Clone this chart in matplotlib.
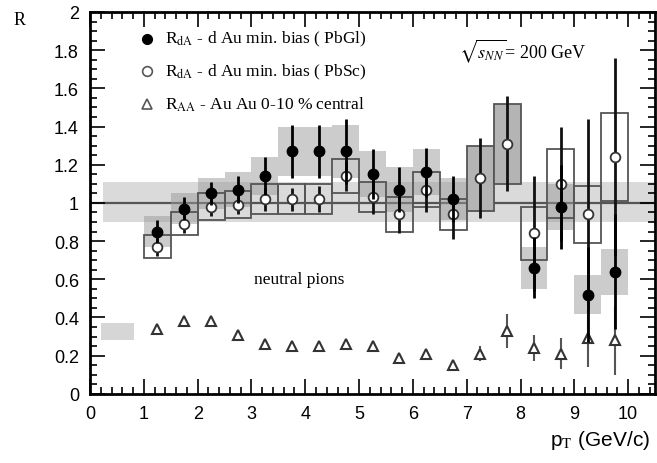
import numpy as np
import matplotlib
matplotlib.use("Agg")
import matplotlib.pyplot as plt
from matplotlib.patches import Rectangle
from matplotlib.ticker import MultipleLocator

# ---- data -------------------------------------------------------------------
pt_gl = [1.25, 1.75, 2.25, 2.75, 3.25, 3.75, 4.25, 4.75, 5.25, 5.75, 6.25, 6.75,
         8.25, 8.75, 9.25, 9.75]
r_gl = [0.85, 0.97, 1.05, 1.07, 1.14, 1.27, 1.27, 1.27, 1.15, 1.07, 1.16, 1.02,
        0.66, 0.98, 0.52, 0.64]
stat_gl = [0.06, 0.06, 0.06, 0.07, 0.10, 0.14, 0.14, 0.17, 0.13, 0.12, 0.13, 0.12,
           0.16, 0.22, 0.25, 0.30]
sys_gl = [0.08, 0.08, 0.08, 0.09, 0.10, 0.13, 0.13, 0.14, 0.12, 0.12, 0.12, 0.11,
          0.11, 0.12, 0.10, 0.12]

pt_sc = [1.25, 1.75, 2.25, 2.75, 3.25, 3.75, 4.25, 4.75, 5.25, 5.75, 6.25, 6.75,
         7.25, 7.75, 8.25, 8.75, 9.25, 9.75]
r_sc = [0.77, 0.89, 0.98, 0.99, 1.02, 1.02, 1.02, 1.14, 1.03, 0.94, 1.07, 0.94,
        1.13, 1.31, 0.84, 1.10, 0.94, 1.24]
stat_sc = [0.05, 0.05, 0.05, 0.05, 0.06, 0.06, 0.07, 0.08, 0.09, 0.10, 0.12, 0.13,
           0.21, 0.25, 0.30, 0.30, 0.50, 0.52]
sys_sc = [0.06, 0.06, 0.07, 0.07, 0.08, 0.08, 0.08, 0.09, 0.08, 0.09, 0.09, 0.08,
          0.17, 0.21, 0.14, 0.18, 0.15, 0.23]
fill_sc = [0, 0, 0, 0, 0, 0, 0, 0, 0, 0, 0, 0, 1, 1, 0, 0, 0, 0]

pt_aa = [1.25, 1.75, 2.25, 2.75, 3.25, 3.75, 4.25, 4.75, 5.25, 5.75, 6.25, 6.75,
         7.25, 7.75, 8.25, 8.75, 9.25, 9.75]
r_aa = [0.34, 0.38, 0.38, 0.31, 0.26, 0.25, 0.25, 0.26, 0.25, 0.19, 0.21, 0.15,
        0.21, 0.33, 0.24, 0.21, 0.29, 0.28]
stat_aa = [0.01, 0.01, 0.01, 0.01, 0.01, 0.01, 0.01, 0.01, 0.01, 0.01, 0.02, 0.02,
           0.04, 0.09, 0.07, 0.08, 0.15, 0.18]

half_w = 0.25

plt.rcParams["font.family"] = ["Liberation Sans", "DejaVu Sans"]
plt.rcParams["mathtext.fontset"] = "stix"
fig = plt.figure(figsize=(6.57, 4.64), dpi=100)
ax = fig.add_axes([0.137, 0.149, 0.860, 0.823])

# normalisation bands
ax.fill_between([0.25, 10.5], 0.90, 1.11, color="#dadada", lw=0, zorder=0)
ax.add_patch(Rectangle((0.2, 0.28), 0.62, 0.09, color="#d6d6d6", lw=0, zorder=0))
ax.axhline(1.0, color="#555555", lw=1.6, zorder=1)

# systematic boxes
for x, y, s in zip(pt_gl, r_gl, sys_gl):
    ax.add_patch(Rectangle((x - half_w, y - s), 2 * half_w, 2 * s,
                           facecolor="#9a9a9a", alpha=0.5, lw=0, zorder=2))
for x, y, s, f in zip(pt_sc, r_sc, sys_sc, fill_sc):
    ax.add_patch(Rectangle((x - half_w, y - s), 2 * half_w, 2 * s,
                           facecolor="#b4b4b4" if f else "none",
                           edgecolor="#555555", lw=1.3, zorder=3))

# points with stat errors
ax.errorbar(pt_aa, r_aa, yerr=stat_aa, fmt="^", ms=7, mfc="white", mec="#333333",
            mew=1.5, ecolor="#555555", elinewidth=1.5, capsize=0, zorder=4)
ax.errorbar(pt_sc, r_sc, yerr=stat_sc, fmt="o", ms=7, mfc="white", mec="#333333",
            mew=1.3, ecolor="#111111", elinewidth=2.0, capsize=0, zorder=5)
ax.errorbar(pt_gl, r_gl, yerr=stat_gl, fmt="o", ms=7.5, mfc="black", mec="black",
            ecolor="black", elinewidth=2.0, capsize=0, zorder=6)

# legend drawn by hand
leg_y = [1.86, 1.69, 1.52]
leg_txt = [r"R$_{\rm dA}$ - d Au min. bias ( PbGl)",
           r"R$_{\rm dA}$ - d Au min. bias ( PbSc)",
           r"R$_{\rm AA}$ - Au Au 0-10 % central"]
ax.plot(1.05, leg_y[0], "o", ms=7, mfc="black", mec="black")
ax.plot(1.05, leg_y[1], "o", ms=7, mfc="white", mec="#555555", mew=1.2)
ax.plot(1.05, leg_y[2], "^", ms=7, mfc="white", mec="#555555", mew=1.2)
for y, t in zip(leg_y, leg_txt):
    ax.text(1.4, y, t, fontsize=12.5, family="Liberation Serif", va="center",
            ha="left")

ax.text(6.85, 1.80, r"$\sqrt{s_{NN}}$= 200 GeV", fontsize=13,
        family="Liberation Serif", va="center")
ax.text(3.05, 0.60, "neutral pions", fontsize=12.5, family="Liberation Serif",
        va="center")

ax.set_xlim(0, 10.5)
ax.set_ylim(0, 2)
ax.xaxis.set_major_locator(MultipleLocator(1))
ax.xaxis.set_minor_locator(MultipleLocator(0.2))
ax.yaxis.set_major_locator(MultipleLocator(0.2))
ax.yaxis.set_minor_locator(MultipleLocator(0.05))
ax.tick_params(which="both", direction="in", top=True, right=True, width=1.2)
ax.tick_params(which="major", length=11, labelsize=13, pad=8)
ax.tick_params(which="minor", length=5)
ax.set_yticks(np.arange(0, 2.01, 0.2))
ax.set_yticklabels(["0", "0.2", "0.4", "0.6", "0.8", "1", "1.2", "1.4", "1.6",
                    "1.8", "2"])
for sp in ax.spines.values():
    sp.set_linewidth(2)

fig.text(0.03, 0.955, "R", fontsize=13, family="Liberation Serif", ha="center",
         va="center")
fig.text(0.99, 0.05, r"p$_{\rm T}$ (GeV/c)", fontsize=15, ha="right",
         va="center")

fig.savefig("out.png", dpi=100)
